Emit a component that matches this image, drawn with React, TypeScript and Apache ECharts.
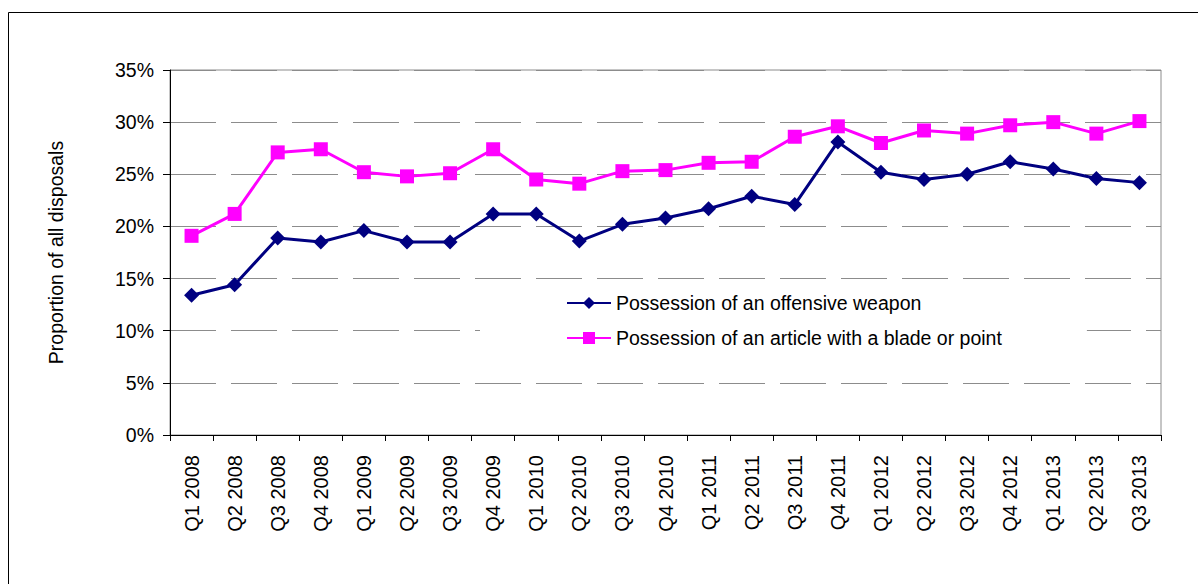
import React, { useEffect, useRef } from "react";
import * as echarts from "echarts";

const quarters = [
  "Q1 2008", "Q2 2008", "Q3 2008", "Q4 2008",
  "Q1 2009", "Q2 2009", "Q3 2009", "Q4 2009",
  "Q1 2010", "Q2 2010", "Q3 2010", "Q4 2010",
  "Q1 2011", "Q2 2011", "Q3 2011", "Q4 2011",
  "Q1 2012", "Q2 2012", "Q3 2012", "Q4 2012",
  "Q1 2013", "Q2 2013", "Q3 2013",
];

const offensiveWeapon = [
  13.4, 14.4, 18.9, 18.5,
  19.6, 18.5, 18.5, 21.2,
  21.2, 18.6, 20.2, 20.8,
  21.7, 22.9, 22.1, 28.1,
  25.2, 24.5, 25.0, 26.2,
  25.5, 24.6, 24.2,
];

const bladeOrPoint = [
  19.1, 21.2, 27.1, 27.4,
  25.2, 24.8, 25.1, 27.4,
  24.5, 24.1, 25.3, 25.4,
  26.1, 26.2, 28.6, 29.6,
  28.0, 29.2, 28.9, 29.7,
  30.0, 28.9, 30.1,
];

const seriesNames = [
  "Possession of an offensive weapon",
  "Possession of an article with a blade or point",
];

const yTicks = { min: 0, max: 35, interval: 5 };

const FONT = 'Arial, "Liberation Sans", sans-serif';

export default function App() {
  const ref = useRef<HTMLDivElement>(null);

  useEffect(() => {
    if (!ref.current) return;
    const chart = echarts.init(ref.current, undefined, { renderer: "svg" });
    chart.setOption({
      animation: false,
      backgroundColor: "#ffffff",
      textStyle: { fontFamily: FONT },
      graphic: [
        {
          type: "rect",
          shape: { x: 8.5, y: 12.5, width: 1400, height: 800 },
          style: { fill: "none", stroke: "#000000", lineWidth: 1 },
          silent: true,
        },
      ],
      grid: {
        left: 170,
        right: 37,
        top: 70,
        bottom: 149,
        show: true,
        borderColor: "#8c8c8c",
        borderWidth: 1,
        backgroundColor: "transparent",
      },
      legend: {
        orient: "vertical",
        left: 480,
        top: 281,
        padding: [12, 85, 12, 86],
        backgroundColor: "#ffffff",
        itemWidth: 44,
        itemHeight: 15,
        itemGap: 15,
        textStyle: {
          fontFamily: FONT,
          fontSize: 19.5,
          lineHeight: 20,
          color: "#000000",
        },
        data: seriesNames,
      },
      xAxis: {
        type: "category",
        data: quarters,
        boundaryGap: true,
        axisLine: { lineStyle: { color: "#000000", width: 1 } },
        axisTick: { show: true, length: 6, alignWithLabel: false, lineStyle: { color: "#000000" } },
        axisLabel: {
          rotate: 90,
          interval: 0,
          margin: 20,
          fontFamily: FONT,
          fontSize: 20,
          color: "#000000",
        },
        splitLine: { show: false },
      },
      yAxis: {
        type: "value",
        min: yTicks.min,
        max: yTicks.max,
        interval: yTicks.interval,
        name: "Proportion of all disposals",
        nameLocation: "middle",
        nameRotate: 90,
        nameGap: 104,
        nameTextStyle: {
          fontFamily: FONT,
          fontSize: 19.5,
          lineHeight: 20,
          color: "#000000",
        },
        axisLine: { show: true, lineStyle: { color: "#000000", width: 1 } },
        axisTick: { show: true, length: 7, lineStyle: { color: "#000000" } },
        axisLabel: {
          margin: 16,
          formatter: "{value}%",
          fontFamily: FONT,
          fontSize: 19.5,
          color: "#000000",
        },
        splitLine: {
          show: true,
          lineStyle: { color: "#8c8c8c", width: 1, type: [46, 15] },
        },
      },
      series: [
        {
          name: seriesNames[0],
          type: "line",
          data: offensiveWeapon,
          symbol: "diamond",
          symbolSize: 15,
          color: "#000080",
          lineStyle: { color: "#000080", width: 3 },
          itemStyle: { color: "#000080" },
          z: 3,
        },
        {
          name: seriesNames[1],
          type: "line",
          data: bladeOrPoint,
          symbol: "rect",
          symbolSize: 14,
          color: "#ff00ff",
          lineStyle: { color: "#ff00ff", width: 3 },
          itemStyle: { color: "#ff00ff" },
          z: 2,
        },
      ],
    });
    return () => chart.dispose();
  }, []);

  return (
    <div
      ref={ref}
      style={{ position: "absolute", left: 0, top: 0, width: 1198, height: 584 }}
    />
  );
}
